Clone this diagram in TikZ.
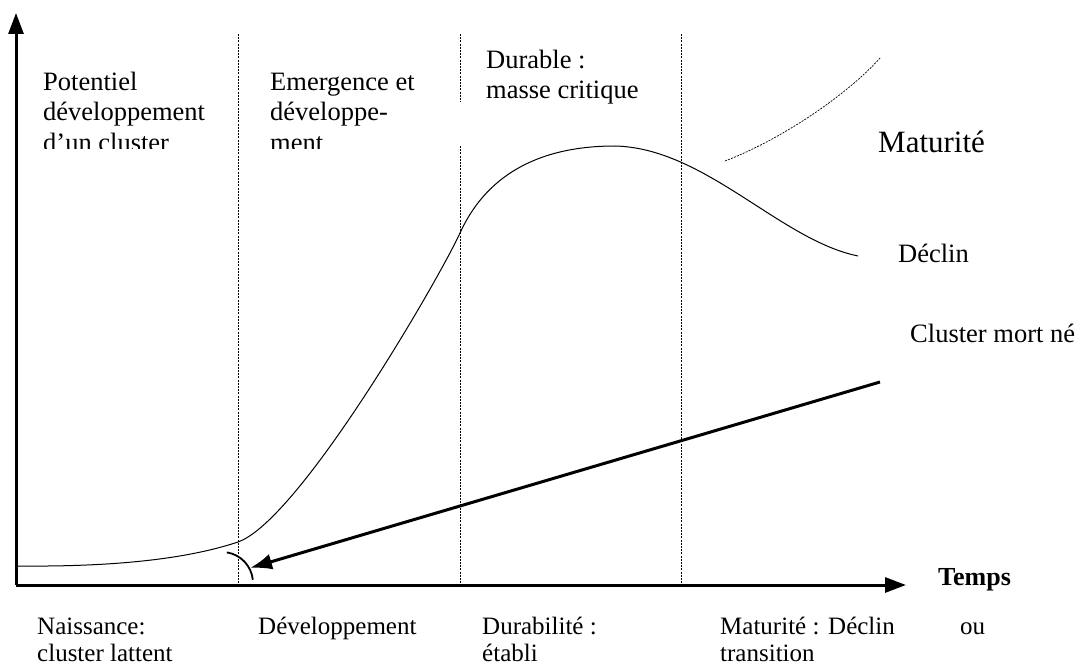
\documentclass[tikz,border=0pt]{standalone}
\usepackage{fontspec}
\setmainfont{Liberation Serif}
\usetikzlibrary{arrows.meta}
\begin{document}
\begin{tikzpicture}[x=1pt,y=-1pt,
  lbl/.style={anchor=base west,inner sep=0pt,font=\fontsize{26.5}{30}\selectfont,align=left},
  tlbl/.style={anchor=base west,inner sep=0pt,font=\fontsize{26.5}{31}\selectfont,align=left},
  blbl/.style={anchor=base west,inner sep=0pt,font=\fontsize{25}{27}\selectfont,align=left},
  axis/.style={line width=3pt,-{Triangle[length=21pt,width=15pt]}},
  sep/.style={line width=0.7pt,dash pattern=on 2pt off 1.2pt},
  curve/.style={line width=1pt},
  fat/.style={line width=3pt,-{Latex[length=22pt,width=16pt]}}]
\useasboundingbox (0,0) rectangle (1079,666);
% axes
\coordinate (O) at (16,585);
\coordinate (Ytop) at (16,13);
\coordinate (Xend) at (906,585);
\draw[axis] (O) -- (Ytop);
\draw[axis] (O) -- (Xend);
% separators
\coordinate (s1t) at (238,34); \coordinate (s1b) at (238,585);
\coordinate (s2t) at (460,34); \coordinate (s2m) at (460,102);
\coordinate (s2n) at (460,146); \coordinate (s2b) at (460,585);
\coordinate (s3t) at (681,34); \coordinate (s3b) at (681,585);
\draw[sep] (s1t) -- (s1b);
\draw[sep] (s2t) -- (s2m);
\draw[sep] (s2n) -- (s2b);
\draw[sep] (s3t) -- (s3b);
% main curve
\coordinate (c0) at (18,566);
\coordinate (c1) at (238,542);
\coordinate (c2) at (460,233);
\coordinate (c3) at (615,146);
\coordinate (c5) at (858,256);
\draw[curve] (c0) .. controls (120,567) and (190,558) .. (c1)
  .. controls (300,520) and (440,277) .. (c2)
  .. controls (485,178) and (535,146) .. (c3)
  .. controls (705,148) and (780,240) .. (c5);
% dashed maturity curve
\coordinate (d0) at (725,161);
\coordinate (d1) at (880,58);
\draw[sep] (d0) .. controls (785,138) and (850,92) .. (d1);
% stillborn arrow
\coordinate (a0) at (880,382);
\coordinate (a1) at (250,568);
\draw[fat] (a0) -- (a1);
% arc
\coordinate (ac) at (222,583);
\draw[line width=1.8pt] (ac) ++(-81:31) arc[start angle=-81,end angle=-6,radius=31];
% top labels (clipped as in the original)
\begin{scope}
\clip (0,0) rectangle (460,149);
\node[tlbl] (pot) at (43,152) {Potentiel\\développement\\d’un cluster};
\node[tlbl] (eme) at (270,152) {Emergence et\\développe-\\ment};
\end{scope}
\node[lbl] (dur) at (486,99) {Durable :\\masse critique};
\node[anchor=base west,inner sep=0pt,font=\fontsize{31}{36}\selectfont] (mat) at (878,153) {Maturité};
\node[lbl] (dec) at (898,262) {Déclin};
\node[lbl] (cmn) at (910,342) {Cluster mort né};
\node[anchor=base west,inner sep=0pt,font=\fontsize{26}{30}\selectfont\bfseries] (tps) at (938,585) {Temps};
% bottom labels
\node[blbl] (b1) at (37,661) {Naissance:\\cluster lattent};
\node[blbl] (b2) at (258,634) {Développement};
\node[blbl] (b3) at (482,661) {Durabilité :\\établi};
\node[blbl] (b4) at (720,661) {Maturité :\\transition};
\node[blbl] (b5) at (828,634) {Déclin};
\node[blbl] (b6) at (960,634) {ou};
\end{tikzpicture}
\end{document}
